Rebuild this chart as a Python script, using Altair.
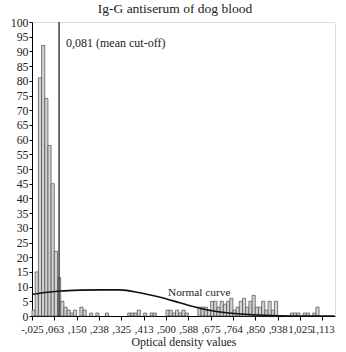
import altair as alt
import pandas as pd

# Histogram of optical density values (bin width 0.0125, first bin starts at -0.025)
counts = [
    2, 15, 81, 92, 74, 58, 45, 22, 13, 5,      # 0-9
    3, 2, 1, 2, 0, 3, 2, 0, 1, 0,              # 10-19
    1, 0, 0, 1, 0, 0, 0, 0, 0, 0,              # 20-29
    1, 1, 1, 2, 0, 1, 0, 1, 1, 0,              # 30-39
    0, 0, 2, 2, 1, 2, 1, 2, 1, 0,              # 40-49
    0, 0, 3, 3, 3, 2, 5, 5, 3, 5,              # 50-59
    4, 5, 6, 2, 3, 5, 6, 3, 5, 7,              # 60-69
    3, 3, 5, 2, 5, 2, 5, 0, 0, 0,              # 70-79
    0, 1, 1, 1, 0, 1, 1, 0, 1, 3,              # 80-89
    0, 0, 0, 0, 0,                             # 90-94
]
bin_width = 0.0125
x_start = -0.025

tick_labels = [
    "-,025", ",063", ",150", ",238", ",325", ",413", ",500",
    ",588", ",675", ",764", ",850", ",938", "1,025", "1,113",
]
tick_step = 7 * bin_width
tick_values = [x_start + i * tick_step for i in range(len(tick_labels))]

# Fitted curve, sampled along the density axis
curve_x = [-0.025, 0.027, 0.086, 0.164, 0.242, 0.320, 0.398, 0.457,
           0.503, 0.554, 0.644, 0.738, 0.840, 0.945, 1.062, 1.160]
curve_y = [7.3, 8.0, 8.5, 8.8, 8.9, 8.9, 7.9, 6.8,
           5.8, 4.5, 2.4, 1.1, 0.4, 0.1, 0.0, 0.0]

cutoff = 0.081
cutoff_label = "0,081 (mean cut-off)"
curve_label = "Normal curve"
title_text = "Ig-G antiserum of dog blood"

n_bins = len(counts)
x_end = x_start + n_bins * bin_width

bars = pd.DataFrame({
    "x0": [x_start + i * bin_width for i in range(n_bins)],
    "x1": [x_start + (i + 1) * bin_width for i in range(n_bins)],
    "count": counts,
})
bars = bars[bars["count"] > 0]

curve = pd.DataFrame({"x": curve_x, "y": curve_y})

FONT = "Liberation Serif"
label_list = "[" + ",".join('"%s"' % s for s in tick_labels) + "]"

x_scale = alt.Scale(domain=[x_start, x_end], nice=False, zero=False)
y_scale = alt.Scale(domain=[0, 100], nice=False)

x_axis = alt.Axis(
    values=tick_values,
    labelExpr=f"{label_list}[round((datum.value - ({x_start})) / {tick_step})]",
    title="Optical density values",
    grid=False, tickSize=4, labelPadding=3, titlePadding=3,
    labelFont=FONT, labelFontSize=10.8, labelColor="#222",
    titleFont=FONT, titleFontSize=11.8, titleFontWeight="normal", titleColor="#222",
    domainColor="#000", tickColor="#000", labelOverlap=False, labelFlush=False,
)
y_axis = alt.Axis(
    values=list(range(0, 101, 5)), title=None, grid=False, tickSize=3,
    labelPadding=1, labelFont=FONT, labelFontSize=11.8, labelColor="#222",
    domainColor="#000", tickColor="#000", labelOverlap=False, labelFlush=False,
)

hist = alt.Chart(bars).mark_bar(
    fill="#d2d2d2", stroke="#4a4a4a", strokeWidth=0.7
).encode(
    x=alt.X("x0:Q", scale=x_scale, axis=x_axis),
    x2="x1:Q",
    y=alt.Y("count:Q", scale=y_scale, axis=y_axis),
    y2=alt.datum(0),
)

line = alt.Chart(curve).mark_line(
    color="#111", strokeWidth=1.6, interpolate="monotone"
).encode(
    x=alt.X("x:Q", scale=x_scale, axis=x_axis),
    y=alt.Y("y:Q", scale=y_scale, axis=y_axis),
)

rule = alt.Chart(pd.DataFrame({"x": [cutoff], "y0": [0], "y1": [100]})).mark_rule(
    color="#111", strokeWidth=1.2
).encode(
    x=alt.X("x:Q", scale=x_scale, axis=x_axis),
    y=alt.Y("y0:Q", scale=y_scale, axis=y_axis),
    y2="y1:Q",
)

cut_text = alt.Chart(pd.DataFrame({"t": [cutoff_label]})).mark_text(
    font=FONT, fontSize=12, color="#222", align="left", baseline="middle"
).encode(text="t:N", x=alt.value(34), y=alt.value(21))

curve_text = alt.Chart(pd.DataFrame({"t": [curve_label]})).mark_text(
    font=FONT, fontSize=11.3, color="#222", align="left", baseline="middle"
).encode(text="t:N", x=alt.value(136), y=alt.value(271))

# Chart heading, centred over the whole figure
title_mark = alt.Chart(pd.DataFrame({"t": [title_text]})).mark_text(
    font=FONT, fontSize=13.5, color="#222", align="center", baseline="middle"
).encode(text="t:N", x=alt.value(143), y=alt.value(-13))

chart = alt.layer(hist, line, rule, cut_text, curve_text, title_mark).properties(
    width=303,
    height=294,
    autosize=alt.AutoSizeParams(type="none"),
    padding={"left": 32, "top": 22, "right": 11, "bottom": 36},
).configure_view(stroke=None).configure(background="white")

chart.save("out.html", embed_options={"renderer": "svg", "actions": False})
